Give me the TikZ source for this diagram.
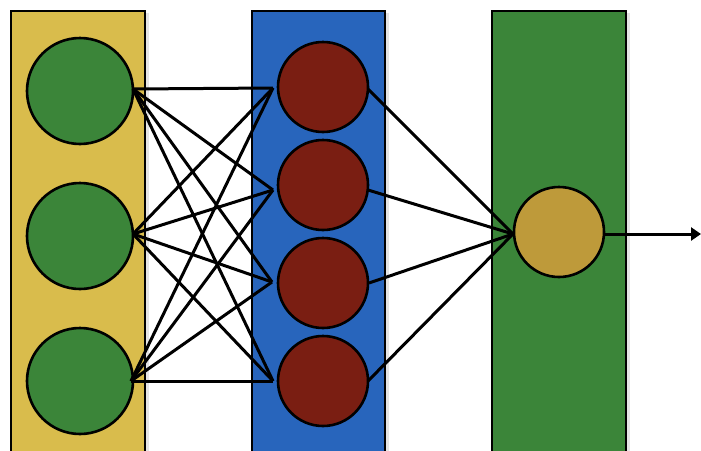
\documentclass[tikz,border=0pt]{standalone}
\usetikzlibrary{arrows.meta}
\definecolor{cyel}{RGB}{217,188,76}
\definecolor{cgrn}{RGB}{59,133,57}
\definecolor{cblu}{RGB}{40,101,188}
\definecolor{cred}{RGB}{122,30,18}
\definecolor{cgold}{RGB}{190,154,58}
\tikzset{
  layerbox/.style={draw=black, line width=2.8pt},
  neuron/.style={circle, draw=black, line width=2.6pt, inner sep=0pt},
  inneuron/.style={neuron, fill=cgrn, minimum size=106pt},
  hidneuron/.style={neuron, fill=cred, minimum size=90pt},
  outneuron/.style={neuron, fill=cgold, minimum size=90pt},
  conn/.style={draw=black, line width=3pt},
}
\begin{document}
\begin{tikzpicture}[x=1pt,y=-1pt]
\useasboundingbox (0,0) rectangle (701,450);
\clip (0,0) rectangle (701,450);
% layer boxes with faint shadow
\fill[black!10] (13,13) rectangle (149,470);
\fill[black!10] (254,13) rectangle (389,470);
\fill[black!10] (494,13) rectangle (630,470);
\draw[layerbox, fill=cyel] (11,11) rectangle (145,470);
\draw[layerbox, fill=cblu] (252,11) rectangle (385,470);
\draw[layerbox, fill=cgrn] (492,11) rectangle (626,470);
% neurons
\node[inneuron] (x1) at (80,91) {};
\node[inneuron] (x2) at (80,236) {};
\node[inneuron] (x3) at (80,381) {};
\node[hidneuron] (h1) at (323,87) {};
\node[hidneuron] (h2) at (323,185) {};
\node[hidneuron] (h3) at (323,283) {};
\node[hidneuron] (h4) at (323,381) {};
\node[outneuron] (y) at (559,232) {};
% connector end points
\coordinate (x1o) at (133,89);
\coordinate (x2o) at (133,234);
\coordinate (x3o) at (131,381);
\coordinate (h1i) at (273,88);
\coordinate (h2i) at (273,190);
\coordinate (h3i) at (272,282);
\coordinate (h4i) at (273,381);
\coordinate (h1o) at (368,89);
\coordinate (h2o) at (368,190);
\coordinate (h3o) at (369,283);
\coordinate (h4o) at (368,381);
\coordinate (yi) at (513,234);
\coordinate (yo) at (604,234);
\coordinate (end) at (701,234);
% input -> hidden
\foreach \a in {x1o,x2o,x3o}{
  \foreach \b in {h1i,h2i,h3i,h4i}{
    \draw[conn] (\a) -- (\b);
  }
}
% hidden -> output
\foreach \a in {h1o,h2o,h3o,h4o}{
  \draw[conn] (\a) -- (yi);
}
\draw[conn, -{Triangle[length=10pt,width=13pt]}] (yo) -- (end);
\end{tikzpicture}
\end{document}
